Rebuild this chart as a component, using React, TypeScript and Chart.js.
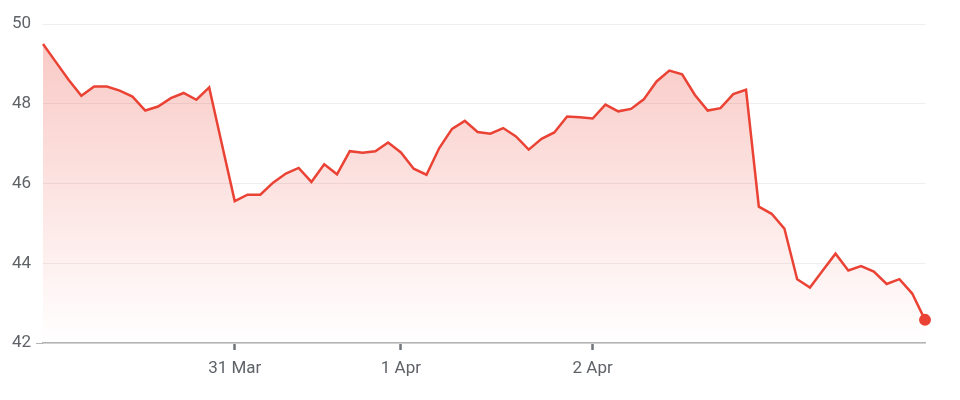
import { Chart, registerables } from 'chart.js'
import { useEffect, useRef } from 'react'

Chart.register(...registerables)

// price series, one point per interval
const prices = [
  49.5, 49.05, 48.6, 48.2, 48.43, 48.43, 48.33, 48.18, 47.83, 47.93,
  48.14, 48.27, 48.1, 48.41, 46.98, 45.56, 45.72, 45.72, 46.02, 46.25,
  46.39, 46.04, 46.48, 46.23, 46.81, 46.77, 46.81, 47.03, 46.78, 46.37,
  46.22, 46.89, 47.37, 47.57, 47.29, 47.25, 47.39, 47.18, 46.85, 47.12,
  47.28, 47.68, 47.66, 47.63, 47.98, 47.81, 47.87, 48.11, 48.56, 48.83,
  48.74, 48.22, 47.83, 47.89, 48.24, 48.35, 45.42, 45.24, 44.87, 43.6,
  43.39, 43.82, 44.24, 43.82, 43.93, 43.79, 43.48, 43.6, 43.24, 42.58,
]

// day markers on the x axis
const dayIndex = [15, 28, 43]
const dayNames = ['31 Mar', '1 Apr', '2 Apr']

const yMin = 42
const yMax = 50
const yStep = 2

const RED = '#ea4335'
const TEXT = '#5f6368'

export default function App(): JSX.Element {
  const canvasRef = useRef<HTMLCanvasElement | null>(null)
  const chartRef = useRef<Chart<'line', number[], string> | null>(null)

  useEffect(() => {
    if (!canvasRef.current) return

    const labels = prices.map((_, i) => {
      const k = dayIndex.indexOf(i)
      return k >= 0 ? dayNames[k] : ''
    })
    const last = prices.length - 1

    chartRef.current = new Chart(canvasRef.current, {
      type: 'line',
      data: {
        labels,
        datasets: [
          {
            data: prices,
            borderColor: RED,
            borderWidth: 2.5,
            tension: 0,
            fill: 'start',
            backgroundColor: (ctx) => {
              const area = ctx.chart.chartArea
              if (!area) return 'rgba(234,67,53,0.2)'
              const g = ctx.chart.ctx.createLinearGradient(0, area.top, 0, area.bottom)
              g.addColorStop(0, 'rgba(234,67,53,0.3)')
              g.addColorStop(1, 'rgba(234,67,53,0)')
              return g
            },
            pointRadius: prices.map((_, i) => (i === last ? 6 : 0)),
            pointBackgroundColor: RED,
            pointBorderWidth: 0,
            clip: false,
          },
        ],
      },
      options: {
        animation: false,
        responsive: true,
        maintainAspectRatio: false,
        layout: { padding: { top: 24, right: 35, bottom: 0, left: 0 } },
        plugins: {
          legend: { display: false },
          tooltip: { enabled: false },
        },
        scales: {
          x: {
            type: 'category',
            grid: {
              drawOnChartArea: false,
              drawTicks: true,
              tickLength: 7,
              tickWidth: 2.5,
              tickColor: '#70757a',
            },
            border: { display: true, color: '#b4b4b4', width: 1.5 },
            ticks: {
              autoSkip: false,
              maxRotation: 0,
              padding: 9,
              color: TEXT,
              font: { family: 'Roboto', size: 17 },
              callback: (_v, i) => (labels[i] ? labels[i] : null),
            },
            afterFit: (scale) => {
              scale.height = 57
            },
          },
          y: {
            min: yMin,
            max: yMax,
            border: { display: false },
            grid: {
              color: '#eeeeee',
              lineWidth: 1,
              drawTicks: true,
              tickLength: 7,
              tickColor: (ctx) => (ctx.tick && ctx.tick.value === yMin ? '#b4b4b4' : 'rgba(0,0,0,0)'),
            },
            ticks: {
              stepSize: yStep,
              padding: 5,
              color: TEXT,
              font: { family: 'Roboto', size: 17 },
            },
            afterFit: (scale) => {
              scale.width = 43
            },
          },
        },
      },
    })

    return () => {
      chartRef.current?.destroy()
    }
  }, [])

  return (
    <div style={{ position: 'fixed', left: 0, top: 0, width: 960, height: 400, background: '#fff' }}>
      <canvas ref={canvasRef} />
    </div>
  )
}
